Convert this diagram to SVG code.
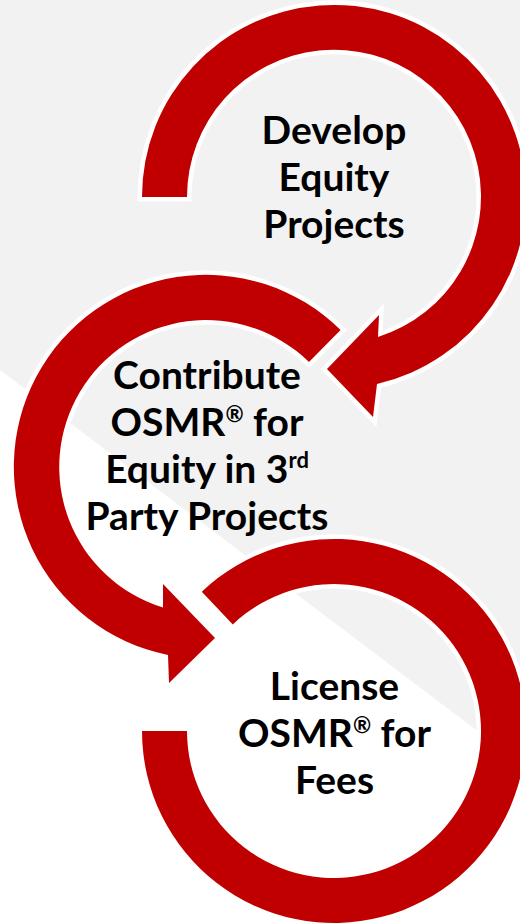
<svg xmlns="http://www.w3.org/2000/svg" width="520" height="923" viewBox="0 0 520 923">
  <style>
    .ring { fill: #C00000; stroke: #FFFFFF; stroke-width: 9; stroke-linejoin: miter; paint-order: stroke; }
    .lbl { font-family: "Lato", "Liberation Sans", sans-serif; font-weight: 700; font-size: 39px; fill: #000000; text-anchor: middle; }
    .sup { font-size: 22px; }
  </style>
  <rect x="0" y="0" width="520" height="923" fill="#FFFFFF"/>
  <polygon id="background-band" points="0,0 520,0 520,763 0,370" fill="#F2F2F2"/>

  <g id="connectors">
    <path id="arrow-bottom" class="ring" d="M 142,731 A 192 192 0 1 0 201.8,591.7 L 232.8,624.4 A 147 147 0 1 1 187,731 Z"/>
    <path id="arrow-middle" class="ring" d="M 340.6,330 A 192 192 0 1 0 168,655 L 169,683 L 215,638 L 163,584 L 163,607.6 A 147 147 0 1 1 309,362 Z"/>
    <path id="arrow-top" class="ring" d="M 142,197 A 192 192 0 1 1 377,384 L 373,417 L 327,369 L 379,315 L 378,337 A 147 147 0 1 0 187,197 Z"/>
  </g>

  <g id="node-develop">
    <text class="lbl" x="334" y="144">Develop</text>
    <text class="lbl" x="334" y="191">Equity</text>
    <text class="lbl" x="334" y="238">Projects</text>
  </g>

  <g id="node-contribute">
    <text class="lbl" x="207" y="389">Contribute</text>
    <text class="lbl" x="207" y="436">OSMR<tspan class="sup" dy="-14">®</tspan><tspan dy="14"> for</tspan></text>
    <text class="lbl" x="207" y="483">Equity in 3<tspan class="sup" dy="-15">rd</tspan></text>
    <text class="lbl" x="207" y="530">Party Projects</text>
  </g>

  <g id="node-license">
    <text class="lbl" x="334.5" y="700">License</text>
    <text class="lbl" x="334.5" y="747">OSMR<tspan class="sup" dy="-14">®</tspan><tspan dy="14"> for</tspan></text>
    <text class="lbl" x="334.5" y="794">Fees</text>
  </g>
</svg>
